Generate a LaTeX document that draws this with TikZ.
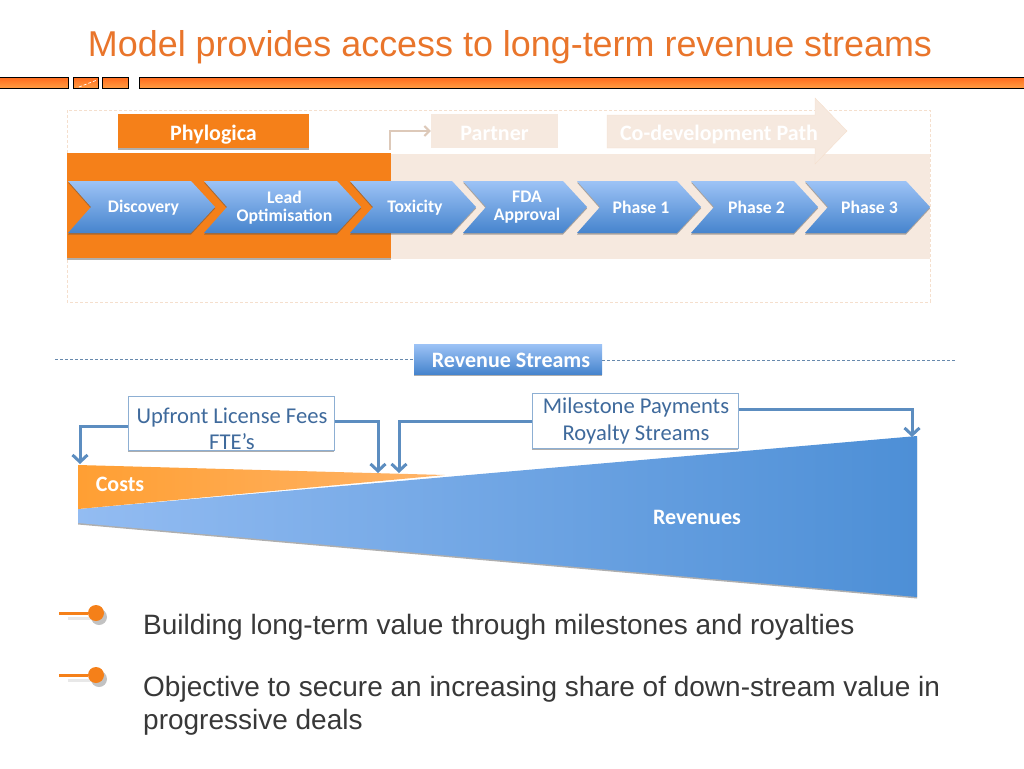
\documentclass[tikz,border=0pt]{standalone}
\usepackage{fontspec}
\setmainfont{Liberation Sans}
\newfontfamily\calfont{Carlito}
\usetikzlibrary{arrows.meta,shadows}
\definecolor{titleorange}{HTML}{E9752B}
\definecolor{phylo}{HTML}{F58019}
\definecolor{beige}{HTML}{F6E9DF}
\definecolor{beigeline}{HTML}{F5DFCD}
\definecolor{bluetop}{HTML}{9DC3F6}
\definecolor{bluebot}{HTML}{4684CD}
\definecolor{wedgeleft}{HTML}{93BCF2}
\definecolor{wedgeright}{HTML}{4D8FD6}
\definecolor{costleft}{HTML}{FF9F33}
\definecolor{costright}{HTML}{FFB468}
\definecolor{bartop}{HTML}{FF6C1E}
\definecolor{barbot}{HTML}{FF9C42}
\definecolor{bluelink}{HTML}{5C8DC0}
\definecolor{bluetext}{HTML}{3F6A9C}
\tikzset{
  softshadow/.style={drop shadow={shadow xshift=0pt,shadow yshift=-1.5pt,opacity=.45,fill=black!70}},
  barbox/.style={draw=black,line width=1pt,top color=bartop,bottom color=barbot},
  chevron/.style={top color=bluetop,bottom color=bluebot,softshadow},
  steplabel/.style={text=white,font=\calfont\bfseries\fontsize{17.7}{18}\selectfont,align=center,inner sep=0pt},
  tagbox/.style={minimum width=#1,minimum height=34pt,inner sep=0pt,text height=18pt,text depth=0pt,font=\calfont\bfseries\fontsize{22}{24}\selectfont},
  feebox/.style={draw=bluelink!70,line width=1pt,fill=white,softshadow},
  feetext/.style={inner sep=0pt,align=center,text=bluetext,font=\calfont\fontsize{22.6}{27}\selectfont},
  feelink/.style={draw=bluelink,line width=3pt,-{Straight Barb[length=7pt,width=15pt]}},
  wedgetext/.style={text=white,inner sep=0pt,font=\calfont\bfseries\fontsize{22}{24}\selectfont},
  bigtext/.style={anchor=base west,inner sep=0pt,text=black!78,align=left,font=\fontsize{28}{33}\selectfont},
  bulletline/.style={draw=phylo,line width=3pt}
}
\begin{document}
\begin{tikzpicture}[x=1pt,y=-1pt]
\useasboundingbox (0,0) rectangle (1024,768);
\node[text=titleorange,inner sep=0pt,font=\fontsize{35.9}{38}\selectfont] (title) at (510,47) {Model provides access to long-term revenue streams};
% header bars
\foreach \i/\j in {-2/68,73/98,102/128,139/1026}
{
  \path[barbox] (\i,77.5) rectangle (\j,88);
}
\draw[white,densely dashed,line width=.7pt] (79,87) -- (97,80);
% top panel
\draw[beigeline,densely dashed,line width=.6pt] (67,110) rectangle (930,302);
\fill[beige] (391,154) rectangle (930,259);
\fill[phylo,softshadow] (67,153) rectangle (391,258);
\node[tagbox=191pt,fill=phylo,text=white,softshadow] (phylogica) at (213.5,131) {Phylogica};
\node[tagbox=127pt,fill=beige,text=white] (partner) at (494.5,131) {Partner};
\path (390,150) coordinate (P1);
\draw[beigeline!90!black,line width=2pt,-{Straight Barb[length=5pt,width=10pt]}] (P1) |- (partner.west);
\path[fill=beige,draw=beigeline] (607,115) -- (815,115) -- (815,98) -- (847,131) -- (815,164) -- (815,148) -- (607,148) -- cycle;
\node[text=white,inner sep=0pt,font=\calfont\bfseries\fontsize{22}{24}\selectfont] (codev) at (719,135) {Co-development Path};
% the steps
\foreach \name/\x/\w/\txt in {disc/68/123/Discovery,lead/204/133/{Lead\\Optimisation},tox/350/102/Toxicity,fda/463/100/{FDA\\Approval},ph1/577/100/Phase 1,ph2/691/103/Phase 2,ph3/805/101/Phase 3}
{
  \path[chevron] (\x,181) -- (\x+\w,181) -- (\x+\w+24,207) -- (\x+\w,233) -- (\x,233) -- (\x+23,207) -- cycle;
  \node[steplabel] (\name) at (\x+\w/2+14,207.5) {\txt};
}
% revenue streams rule
\node[tagbox=188pt,minimum height=30pt,text height=16pt,top color=bluetop,bottom color=bluebot,text=white,softshadow] (streams) at (508,359) {\hspace*{6pt}Revenue Streams};
\path (55,359) coordinate (R1);
\path (956,360) coordinate (R2);
\draw[bluelink!70!gray,densely dashed,line width=.9pt] (R1) -- (streams.west);
\draw[bluelink!70!gray,densely dashed,line width=.9pt] (streams.east |- R2) -- (R2);
% wedges
\path[left color=wedgeleft,right color=wedgeright,softshadow] (78,509) -- (917,436) -- (917,597) -- (78,523) -- cycle;
\path[left color=costleft,right color=costright] (78,465) -- (445,475) -- (78,509) -- cycle;
\node[wedgetext] (costs) at (120,484) {Costs};
\node[wedgetext] (revenues) at (697,517) {Revenues};
% fee boxes
\node[feebox,minimum width=206pt,minimum height=54pt] (upfront) at (231,423) {};
\node[feetext,font=\calfont\fontsize{22.6}{26}\selectfont] (upfronttext) at (232,429) {Upfront License Fees\\FTE’s};
\node[feebox,minimum width=206pt,minimum height=55pt] (milestone) at (635,420.5) {};
\node[feetext] (milestonetext) at (636,421) {Milestone Payments\\Royalty Streams};
\path (80,464) coordinate (A1);
\path (378,473) coordinate (A2);
\path (399,473) coordinate (A3);
\path (912,437) coordinate (A4);
\draw[feelink] (upfront.west |- 0,426) -| (A1);
\draw[feelink] (upfront.east |- 0,421) -| (A2);
\draw[feelink] (milestone.west |- 0,421) -| (A3);
\draw[feelink] (milestone.east |- 0,409) -| (A4);
% bullets
\foreach \j/\k in {613/b1,675/b2}
{
  \path (59,\j) coordinate (\k);
  \draw[black!15,opacity=.6,line width=3pt] (68,\j+5) -- (92,\j+5);
  \fill[black!40,opacity=.6] (99,\j+4) circle (8pt);
  \node[circle,fill=phylo,minimum size=16pt,inner sep=0pt] (\k dot) at (96,\j) {};
  \draw[bulletline] (\k) -- (\k dot);
}
\node[bigtext] (line1) at (143,634) {Building long-term value through milestones and royalties};
\node[bigtext] (line2) at (143,729) {Objective to secure an increasing share of down-stream value in\\progressive deals};
\end{tikzpicture}
\end{document}
